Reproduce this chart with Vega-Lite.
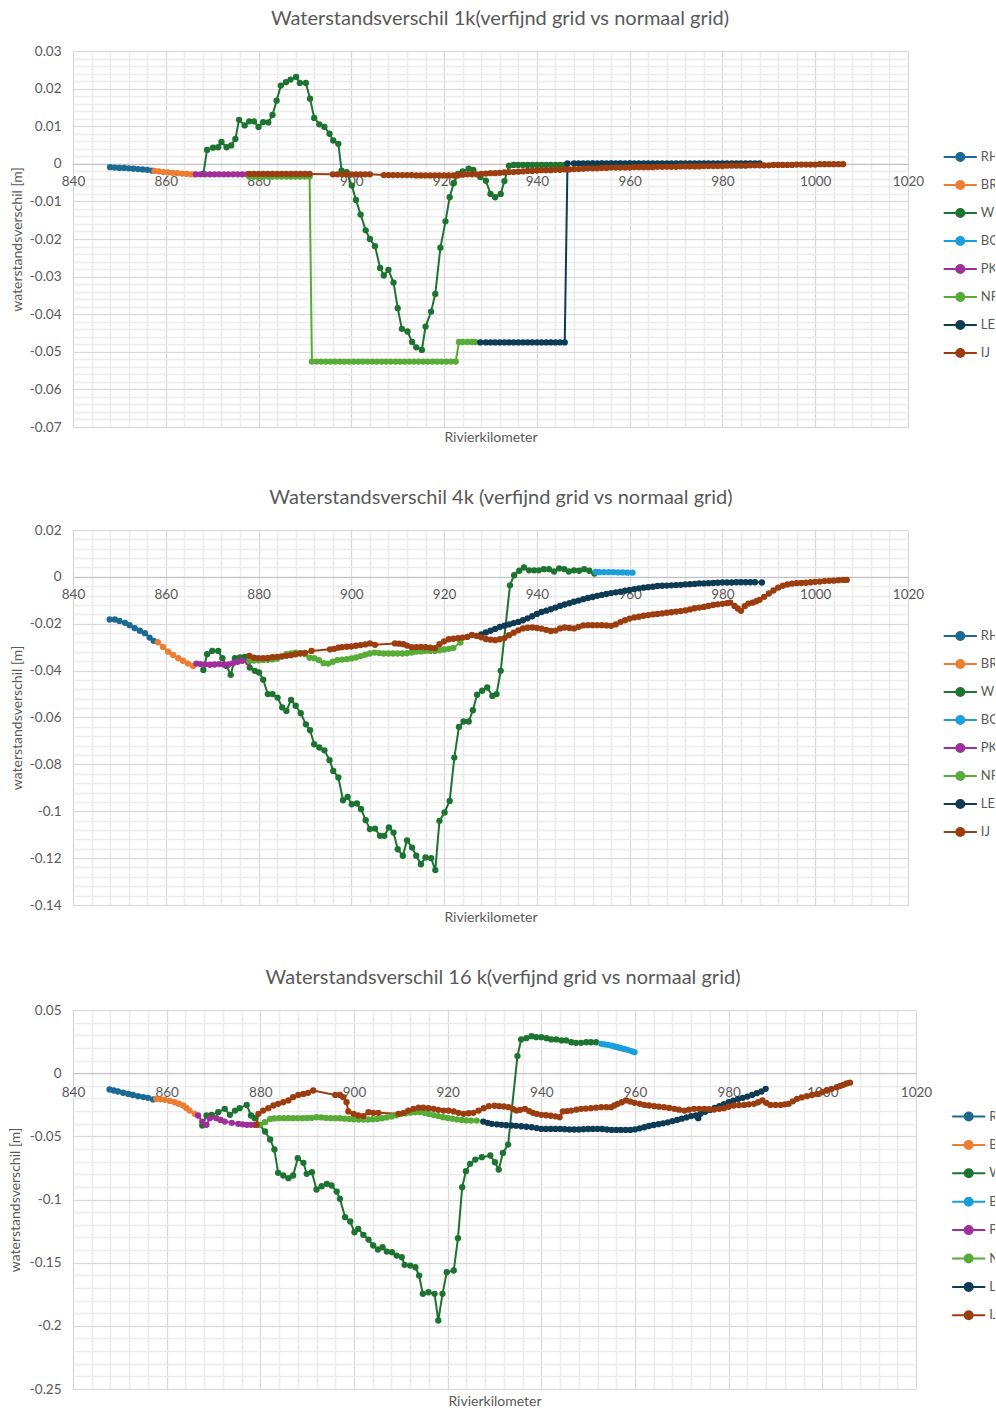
{
"$schema":"https://vega.github.io/schema/vega-lite/v6.json",
"padding":{"left":8,"top":9,"right":-16,"bottom":0},
"background":"white",
"spacing":43,
"config":{"font":"Lato","view":{"stroke":null},
"title":{"fontSize":20,"font":"Lato","color":"#595959","fontWeight":"normal","anchor":"middle","frame":"group","baseline":"alphabetic","offset":15},
"axis":{"labelFont":"Lato","titleFont":"Lato","labelColor":"#595959","titleColor":"#595959","labelFontSize":13.5,"titleFontSize":14,"titleFontWeight":"normal"}},
"datasets":{"d":[
{"p":1,"s":"RH","k":848,"v":-0.0009},{"p":1,"s":"RH","k":849,"v":-0.001},{"p":1,"s":"RH","k":850,"v":-0.0011},{"p":1,"s":"RH","k":851,"v":-0.0011},{"p":1,"s":"RH","k":852,"v":-0.0012},{"p":1,"s":"RH","k":853,"v":-0.0013},{"p":1,"s":"RH","k":854,"v":-0.0014},{"p":1,"s":"RH","k":855,"v":-0.0015},{"p":1,"s":"RH","k":856,"v":-0.0016},{"p":1,"s":"RH","k":857,"v":-0.0018},
{"p":1,"s":"BR","k":857.6,"v":-0.0019},{"p":1,"s":"BR","k":858.5,"v":-0.002},{"p":1,"s":"BR","k":859.5,"v":-0.0022},{"p":1,"s":"BR","k":860.5,"v":-0.0023},{"p":1,"s":"BR","k":861.5,"v":-0.0024},{"p":1,"s":"BR","k":862.5,"v":-0.0025},{"p":1,"s":"BR","k":863.5,"v":-0.0026},{"p":1,"s":"BR","k":864.5,"v":-0.0027},{"p":1,"s":"BR","k":865.5,"v":-0.0028},{"p":1,"s":"BR","k":866.2,"v":-0.0028},
{"p":1,"s":"WL","k":868.1,"v":-0.0027},{"p":1,"s":"WL","k":868.9,"v":0.0037},{"p":1,"s":"WL","k":870.2,"v":0.0043},{"p":1,"s":"WL","k":871.3,"v":0.0044},{"p":1,"s":"WL","k":872,"v":0.0058},{"p":1,"s":"WL","k":873.1,"v":0.0044},{"p":1,"s":"WL","k":874.1,"v":0.0049},{"p":1,"s":"WL","k":875,"v":0.0066},{"p":1,"s":"WL","k":875.8,"v":0.0117},{"p":1,"s":"WL","k":877,"v":0.0102},{"p":1,"s":"WL","k":878,"v":0.0113},{"p":1,"s":"WL","k":879,"v":0.0113},{"p":1,"s":"WL","k":880,"v":0.0098},{"p":1,"s":"WL","k":881,"v":0.0111},{"p":1,"s":"WL","k":882.1,"v":0.011},{"p":1,"s":"WL","k":883,"v":0.013},{"p":1,"s":"WL","k":883.9,"v":0.0168},{"p":1,"s":"WL","k":884.8,"v":0.0208},{"p":1,"s":"WL","k":885.9,"v":0.0217},{"p":1,"s":"WL","k":886.9,"v":0.0224},{"p":1,"s":"WL","k":888.1,"v":0.0231},{"p":1,"s":"WL","k":888.9,"v":0.0215},{"p":1,"s":"WL","k":890.2,"v":0.0215},{"p":1,"s":"WL","k":891.1,"v":0.0173},{"p":1,"s":"WL","k":892,"v":0.0122},{"p":1,"s":"WL","k":893.1,"v":0.0105},{"p":1,"s":"WL","k":894.2,"v":0.0098},{"p":1,"s":"WL","k":895.3,"v":0.008},{"p":1,"s":"WL","k":896.1,"v":0.0062},{"p":1,"s":"WL","k":897.2,"v":0.0053},{"p":1,"s":"WL","k":897.9,"v":-0.0018},{"p":1,"s":"WL","k":899,"v":-0.0022},{"p":1,"s":"WL","k":900.1,"v":-0.0058},{"p":1,"s":"WL","k":901,"v":-0.0096},{"p":1,"s":"WL","k":902,"v":-0.0135},{"p":1,"s":"WL","k":903.1,"v":-0.0177},{"p":1,"s":"WL","k":904,"v":-0.02},{"p":1,"s":"WL","k":905.1,"v":-0.0219},{"p":1,"s":"WL","k":906.2,"v":-0.0277},{"p":1,"s":"WL","k":907,"v":-0.0297},{"p":1,"s":"WL","k":908,"v":-0.0282},{"p":1,"s":"WL","k":909.1,"v":-0.0316},{"p":1,"s":"WL","k":910,"v":-0.0384},{"p":1,"s":"WL","k":910.9,"v":-0.0439},{"p":1,"s":"WL","k":912.1,"v":-0.0446},{"p":1,"s":"WL","k":913.1,"v":-0.0474},{"p":1,"s":"WL","k":914,"v":-0.0488},{"p":1,"s":"WL","k":915.2,"v":-0.0495},{"p":1,"s":"WL","k":916,"v":-0.0433},{"p":1,"s":"WL","k":917.2,"v":-0.0393},{"p":1,"s":"WL","k":918.1,"v":-0.0346},{"p":1,"s":"WL","k":919.2,"v":-0.0223},{"p":1,"s":"WL","k":920.3,"v":-0.0153},{"p":1,"s":"WL","k":921.2,"v":-0.0089},{"p":1,"s":"WL","k":922.1,"v":-0.0051},{"p":1,"s":"WL","k":923,"v":-0.0027},{"p":1,"s":"WL","k":924,"v":-0.002},{"p":1,"s":"WL","k":925.3,"v":-0.0013},{"p":1,"s":"WL","k":926.3,"v":-0.0016},{"p":1,"s":"WL","k":927.8,"v":-0.0035},{"p":1,"s":"WL","k":929,"v":-0.0045},{"p":1,"s":"WL","k":930,"v":-0.008},{"p":1,"s":"WL","k":931,"v":-0.0089},{"p":1,"s":"WL","k":932.2,"v":-0.008},{"p":1,"s":"WL","k":933,"v":-0.0046},{"p":1,"s":"WL","k":934,"v":-0.0005},{"p":1,"s":"WL","k":935,"v":-0.0003},{"p":1,"s":"WL","k":936,"v":-0.0003},{"p":1,"s":"WL","k":937,"v":-0.0003},{"p":1,"s":"WL","k":938,"v":-0.0003},{"p":1,"s":"WL","k":939,"v":-0.0003},{"p":1,"s":"WL","k":940,"v":-0.0003},{"p":1,"s":"WL","k":941,"v":-0.0003},{"p":1,"s":"WL","k":942,"v":-0.0003},{"p":1,"s":"WL","k":943,"v":-0.0003},{"p":1,"s":"WL","k":944,"v":-0.0003},{"p":1,"s":"WL","k":945,"v":-0.0003},{"p":1,"s":"WL","k":946,"v":-0.0003},
{"p":1,"s":"BO","k":952,"v":0.0001},{"p":1,"s":"BO","k":954,"v":0.0001},{"p":1,"s":"BO","k":956,"v":0.0001},{"p":1,"s":"BO","k":958,"v":0.0001},{"p":1,"s":"BO","k":960,"v":0.0001},
{"p":1,"s":"PK","k":866.5,"v":-0.0028},{"p":1,"s":"PK","k":867.5,"v":-0.0028},{"p":1,"s":"PK","k":868.5,"v":-0.0028},{"p":1,"s":"PK","k":869.5,"v":-0.0028},{"p":1,"s":"PK","k":870.5,"v":-0.0028},{"p":1,"s":"PK","k":871.5,"v":-0.0028},{"p":1,"s":"PK","k":872.5,"v":-0.0028},{"p":1,"s":"PK","k":873.5,"v":-0.0028},{"p":1,"s":"PK","k":874.5,"v":-0.0028},{"p":1,"s":"PK","k":875.5,"v":-0.0028},{"p":1,"s":"PK","k":876.5,"v":-0.0028},{"p":1,"s":"PK","k":877.5,"v":-0.0028},
{"p":1,"s":"NR","k":878,"v":-0.0034},{"p":1,"s":"NR","k":879,"v":-0.0034},{"p":1,"s":"NR","k":880,"v":-0.0034},{"p":1,"s":"NR","k":881,"v":-0.0034},{"p":1,"s":"NR","k":882,"v":-0.0034},{"p":1,"s":"NR","k":883,"v":-0.0034},{"p":1,"s":"NR","k":884,"v":-0.0034},{"p":1,"s":"NR","k":885,"v":-0.0034},{"p":1,"s":"NR","k":886,"v":-0.0034},{"p":1,"s":"NR","k":887,"v":-0.0034},{"p":1,"s":"NR","k":888,"v":-0.0034},{"p":1,"s":"NR","k":889,"v":-0.0034},{"p":1,"s":"NR","k":890,"v":-0.0034},{"p":1,"s":"NR","k":891,"v":-0.0034},
{"p":1,"s":"NR","k":891.5,"v":-0.0526},{"p":1,"s":"NR","k":892.5,"v":-0.0526},{"p":1,"s":"NR","k":893.5,"v":-0.0526},{"p":1,"s":"NR","k":894.5,"v":-0.0526},{"p":1,"s":"NR","k":895.5,"v":-0.0526},{"p":1,"s":"NR","k":896.5,"v":-0.0526},{"p":1,"s":"NR","k":897.5,"v":-0.0526},{"p":1,"s":"NR","k":898.5,"v":-0.0526},{"p":1,"s":"NR","k":899.5,"v":-0.0526},{"p":1,"s":"NR","k":900.5,"v":-0.0526},{"p":1,"s":"NR","k":901.5,"v":-0.0526},{"p":1,"s":"NR","k":902.5,"v":-0.0526},{"p":1,"s":"NR","k":903.5,"v":-0.0526},{"p":1,"s":"NR","k":904.5,"v":-0.0526},{"p":1,"s":"NR","k":905.5,"v":-0.0526},{"p":1,"s":"NR","k":906.5,"v":-0.0526},{"p":1,"s":"NR","k":907.5,"v":-0.0526},{"p":1,"s":"NR","k":908.5,"v":-0.0526},{"p":1,"s":"NR","k":909.5,"v":-0.0526},{"p":1,"s":"NR","k":910.5,"v":-0.0526},{"p":1,"s":"NR","k":911.5,"v":-0.0526},{"p":1,"s":"NR","k":912.5,"v":-0.0526},{"p":1,"s":"NR","k":913.5,"v":-0.0526},{"p":1,"s":"NR","k":914.5,"v":-0.0526},{"p":1,"s":"NR","k":915.5,"v":-0.0526},{"p":1,"s":"NR","k":916.5,"v":-0.0526},{"p":1,"s":"NR","k":917.5,"v":-0.0526},{"p":1,"s":"NR","k":918.5,"v":-0.0526},{"p":1,"s":"NR","k":919.5,"v":-0.0526},{"p":1,"s":"NR","k":920.5,"v":-0.0526},{"p":1,"s":"NR","k":921.5,"v":-0.0526},{"p":1,"s":"NR","k":922.5,"v":-0.0526},
{"p":1,"s":"NR","k":923.2,"v":-0.0474},{"p":1,"s":"NR","k":924,"v":-0.0474},{"p":1,"s":"NR","k":925,"v":-0.0474},{"p":1,"s":"NR","k":926,"v":-0.0474},{"p":1,"s":"NR","k":926.7,"v":-0.0474},
{"p":1,"s":"LE","k":927.8,"v":-0.0475},{"p":1,"s":"LE","k":929,"v":-0.0475},{"p":1,"s":"LE","k":930,"v":-0.0475},{"p":1,"s":"LE","k":931,"v":-0.0475},{"p":1,"s":"LE","k":932,"v":-0.0475},{"p":1,"s":"LE","k":933,"v":-0.0475},{"p":1,"s":"LE","k":934,"v":-0.0475},{"p":1,"s":"LE","k":935,"v":-0.0475},{"p":1,"s":"LE","k":936,"v":-0.0475},{"p":1,"s":"LE","k":937,"v":-0.0475},{"p":1,"s":"LE","k":938,"v":-0.0475},{"p":1,"s":"LE","k":939,"v":-0.0475},{"p":1,"s":"LE","k":940,"v":-0.0475},{"p":1,"s":"LE","k":941,"v":-0.0475},{"p":1,"s":"LE","k":942,"v":-0.0475},{"p":1,"s":"LE","k":943,"v":-0.0475},{"p":1,"s":"LE","k":944,"v":-0.0475},{"p":1,"s":"LE","k":945,"v":-0.0475},{"p":1,"s":"LE","k":946,"v":-0.0475},
{"p":1,"s":"LE","k":946.6,"v":0.0001},{"p":1,"s":"LE","k":948,"v":0.0001},{"p":1,"s":"LE","k":949,"v":0.0001},{"p":1,"s":"LE","k":950,"v":0.0001},{"p":1,"s":"LE","k":951,"v":0.0001},{"p":1,"s":"LE","k":952,"v":0.0001},{"p":1,"s":"LE","k":953,"v":0.0001},{"p":1,"s":"LE","k":954,"v":0.0001},{"p":1,"s":"LE","k":955,"v":0.0001},{"p":1,"s":"LE","k":956,"v":0.0001},{"p":1,"s":"LE","k":957,"v":0.0001},{"p":1,"s":"LE","k":958,"v":0.0001},{"p":1,"s":"LE","k":959,"v":0.0001},{"p":1,"s":"LE","k":960,"v":0.0001},{"p":1,"s":"LE","k":961,"v":0.0001},{"p":1,"s":"LE","k":962,"v":0.0001},{"p":1,"s":"LE","k":963,"v":0.0001},{"p":1,"s":"LE","k":964,"v":0.0001},{"p":1,"s":"LE","k":965,"v":0.0001},{"p":1,"s":"LE","k":966,"v":0.0001},{"p":1,"s":"LE","k":967,"v":0.0001},{"p":1,"s":"LE","k":968,"v":0.0001},{"p":1,"s":"LE","k":969,"v":0.0001},{"p":1,"s":"LE","k":970,"v":0.0001},{"p":1,"s":"LE","k":971,"v":0.0001},{"p":1,"s":"LE","k":972,"v":0.0001},{"p":1,"s":"LE","k":973,"v":0.0001},{"p":1,"s":"LE","k":974,"v":0.0001},{"p":1,"s":"LE","k":975,"v":0.0001},{"p":1,"s":"LE","k":976,"v":0.0001},{"p":1,"s":"LE","k":977,"v":0.0001},{"p":1,"s":"LE","k":978,"v":0.0001},{"p":1,"s":"LE","k":979,"v":0.0001},{"p":1,"s":"LE","k":980,"v":0.0001},{"p":1,"s":"LE","k":981,"v":0.0001},{"p":1,"s":"LE","k":982,"v":0.0001},{"p":1,"s":"LE","k":983,"v":0.0001},{"p":1,"s":"LE","k":984,"v":0.0001},{"p":1,"s":"LE","k":985,"v":0.0001},{"p":1,"s":"LE","k":986,"v":0.0001},{"p":1,"s":"LE","k":987,"v":0.0001},{"p":1,"s":"LE","k":988,"v":0.0001},
{"p":1,"s":"IJ","k":878,"v":-0.0027},{"p":1,"s":"IJ","k":879,"v":-0.0027},{"p":1,"s":"IJ","k":880,"v":-0.0027},{"p":1,"s":"IJ","k":881,"v":-0.0027},{"p":1,"s":"IJ","k":882,"v":-0.0027},{"p":1,"s":"IJ","k":883,"v":-0.0027},{"p":1,"s":"IJ","k":884,"v":-0.0027},{"p":1,"s":"IJ","k":885,"v":-0.0027},{"p":1,"s":"IJ","k":886,"v":-0.0027},{"p":1,"s":"IJ","k":887,"v":-0.0027},{"p":1,"s":"IJ","k":888,"v":-0.0027},{"p":1,"s":"IJ","k":889,"v":-0.0027},{"p":1,"s":"IJ","k":890,"v":-0.0027},{"p":1,"s":"IJ","k":891,"v":-0.0027},
{"p":1,"s":"IJ","k":896,"v":-0.0028},{"p":1,"s":"IJ","k":897,"v":-0.0028},{"p":1,"s":"IJ","k":898,"v":-0.0028},{"p":1,"s":"IJ","k":899,"v":-0.0028},{"p":1,"s":"IJ","k":900,"v":-0.0028},{"p":1,"s":"IJ","k":901,"v":-0.0028},{"p":1,"s":"IJ","k":902,"v":-0.0028},{"p":1,"s":"IJ","k":903,"v":-0.0028},{"p":1,"s":"IJ","k":904,"v":-0.0028},
{"p":1,"s":"IJ","k":907,"v":-0.003},{"p":1,"s":"IJ","k":908,"v":-0.003},{"p":1,"s":"IJ","k":909,"v":-0.003},{"p":1,"s":"IJ","k":910,"v":-0.003},{"p":1,"s":"IJ","k":911,"v":-0.003},{"p":1,"s":"IJ","k":912,"v":-0.003},{"p":1,"s":"IJ","k":913,"v":-0.003},{"p":1,"s":"IJ","k":914,"v":-0.0031},{"p":1,"s":"IJ","k":915,"v":-0.0031},{"p":1,"s":"IJ","k":916,"v":-0.0031},{"p":1,"s":"IJ","k":917,"v":-0.0031},{"p":1,"s":"IJ","k":918,"v":-0.0031},{"p":1,"s":"IJ","k":919,"v":-0.0031},{"p":1,"s":"IJ","k":920,"v":-0.0031},{"p":1,"s":"IJ","k":921,"v":-0.0031},{"p":1,"s":"IJ","k":922,"v":-0.0031},{"p":1,"s":"IJ","k":923,"v":-0.0031},{"p":1,"s":"IJ","k":924,"v":-0.0029},{"p":1,"s":"IJ","k":925,"v":-0.0028},{"p":1,"s":"IJ","k":926,"v":-0.0028},{"p":1,"s":"IJ","k":927,"v":-0.0028},{"p":1,"s":"IJ","k":928,"v":-0.0027},{"p":1,"s":"IJ","k":929,"v":-0.0026},{"p":1,"s":"IJ","k":930,"v":-0.0025},{"p":1,"s":"IJ","k":931,"v":-0.0025},{"p":1,"s":"IJ","k":932,"v":-0.0024},{"p":1,"s":"IJ","k":933,"v":-0.0023},{"p":1,"s":"IJ","k":934,"v":-0.0022},{"p":1,"s":"IJ","k":935,"v":-0.0022},{"p":1,"s":"IJ","k":936,"v":-0.0021},{"p":1,"s":"IJ","k":937,"v":-0.002},{"p":1,"s":"IJ","k":938,"v":-0.0019},{"p":1,"s":"IJ","k":939,"v":-0.0019},{"p":1,"s":"IJ","k":940,"v":-0.0018},{"p":1,"s":"IJ","k":941,"v":-0.0017},{"p":1,"s":"IJ","k":942,"v":-0.0017},{"p":1,"s":"IJ","k":943,"v":-0.0017},{"p":1,"s":"IJ","k":944,"v":-0.0016},{"p":1,"s":"IJ","k":945,"v":-0.0016},{"p":1,"s":"IJ","k":946,"v":-0.0015},{"p":1,"s":"IJ","k":947,"v":-0.0015},{"p":1,"s":"IJ","k":948,"v":-0.0014},{"p":1,"s":"IJ","k":949,"v":-0.0014},{"p":1,"s":"IJ","k":950,"v":-0.0013},{"p":1,"s":"IJ","k":951,"v":-0.0012},{"p":1,"s":"IJ","k":952,"v":-0.0012},{"p":1,"s":"IJ","k":953,"v":-0.0012},{"p":1,"s":"IJ","k":954,"v":-0.0011},{"p":1,"s":"IJ","k":955,"v":-0.0011},{"p":1,"s":"IJ","k":956,"v":-0.001},{"p":1,"s":"IJ","k":957,"v":-0.001},{"p":1,"s":"IJ","k":958,"v":-0.001},{"p":1,"s":"IJ","k":959,"v":-0.001},{"p":1,"s":"IJ","k":960,"v":-0.001},{"p":1,"s":"IJ","k":961,"v":-0.0009},{"p":1,"s":"IJ","k":962,"v":-0.0009},{"p":1,"s":"IJ","k":963,"v":-0.0009},{"p":1,"s":"IJ","k":964,"v":-0.0009},{"p":1,"s":"IJ","k":965,"v":-0.0009},{"p":1,"s":"IJ","k":966,"v":-0.0008},{"p":1,"s":"IJ","k":967,"v":-0.0008},{"p":1,"s":"IJ","k":968,"v":-0.0008},{"p":1,"s":"IJ","k":969,"v":-0.0008},{"p":1,"s":"IJ","k":970,"v":-0.0008},{"p":1,"s":"IJ","k":971,"v":-0.0007},{"p":1,"s":"IJ","k":972,"v":-0.0007},{"p":1,"s":"IJ","k":973,"v":-0.0007},{"p":1,"s":"IJ","k":974,"v":-0.0007},{"p":1,"s":"IJ","k":975,"v":-0.0007},{"p":1,"s":"IJ","k":976,"v":-0.0006},{"p":1,"s":"IJ","k":977,"v":-0.0006},{"p":1,"s":"IJ","k":978,"v":-0.0006},{"p":1,"s":"IJ","k":979,"v":-0.0006},{"p":1,"s":"IJ","k":980,"v":-0.0006},{"p":1,"s":"IJ","k":981,"v":-0.0005},{"p":1,"s":"IJ","k":982,"v":-0.0005},{"p":1,"s":"IJ","k":983,"v":-0.0005},{"p":1,"s":"IJ","k":984,"v":-0.0005},{"p":1,"s":"IJ","k":985,"v":-0.0005},{"p":1,"s":"IJ","k":986,"v":-0.0004},{"p":1,"s":"IJ","k":987,"v":-0.0004},{"p":1,"s":"IJ","k":988,"v":-0.0004},{"p":1,"s":"IJ","k":989,"v":-0.0004},{"p":1,"s":"IJ","k":990,"v":-0.0004},{"p":1,"s":"IJ","k":991,"v":-0.0003},{"p":1,"s":"IJ","k":992,"v":-0.0003},{"p":1,"s":"IJ","k":993,"v":-0.0003},{"p":1,"s":"IJ","k":994,"v":-0.0003},{"p":1,"s":"IJ","k":995,"v":-0.0003},{"p":1,"s":"IJ","k":996,"v":-0.0002},{"p":1,"s":"IJ","k":997,"v":-0.0002},{"p":1,"s":"IJ","k":998,"v":-0.0002},{"p":1,"s":"IJ","k":999,"v":-0.0002},{"p":1,"s":"IJ","k":1000,"v":-0.0002},{"p":1,"s":"IJ","k":1001,"v":-0.0001},{"p":1,"s":"IJ","k":1002,"v":-0.0001},{"p":1,"s":"IJ","k":1003,"v":-0.0001},{"p":1,"s":"IJ","k":1004,"v":-0.0001},{"p":1,"s":"IJ","k":1005,"v":-0.0001},{"p":1,"s":"IJ","k":1006,"v":-0.0001},

{"p":2,"s":"RH","k":847.9,"v":-0.0182},{"p":2,"s":"RH","k":849,"v":-0.0182},{"p":2,"s":"RH","k":850,"v":-0.0188},{"p":2,"s":"RH","k":851.2,"v":-0.0196},{"p":2,"s":"RH","k":852.2,"v":-0.0206},{"p":2,"s":"RH","k":853.3,"v":-0.0219},{"p":2,"s":"RH","k":854.4,"v":-0.023},{"p":2,"s":"RH","k":855.5,"v":-0.024},{"p":2,"s":"RH","k":856.5,"v":-0.0259},{"p":2,"s":"RH","k":857.4,"v":-0.0273},
{"p":2,"s":"BR","k":858.3,"v":-0.0279},{"p":2,"s":"BR","k":859.4,"v":-0.0299},{"p":2,"s":"BR","k":860.5,"v":-0.0319},{"p":2,"s":"BR","k":861.6,"v":-0.0333},{"p":2,"s":"BR","k":862.7,"v":-0.0347},{"p":2,"s":"BR","k":863.7,"v":-0.0358},{"p":2,"s":"BR","k":864.8,"v":-0.037},{"p":2,"s":"BR","k":865.9,"v":-0.038},
{"p":2,"s":"WL","k":868.1,"v":-0.0397},{"p":2,"s":"WL","k":868.9,"v":-0.033},{"p":2,"s":"WL","k":870,"v":-0.0316},{"p":2,"s":"WL","k":871.3,"v":-0.0316},{"p":2,"s":"WL","k":872.2,"v":-0.0347},{"p":2,"s":"WL","k":873.1,"v":-0.038},{"p":2,"s":"WL","k":874,"v":-0.0418},{"p":2,"s":"WL","k":874.9,"v":-0.0347},{"p":2,"s":"WL","k":876,"v":-0.0344},{"p":2,"s":"WL","k":877,"v":-0.0341},{"p":2,"s":"WL","k":878.1,"v":-0.0387},{"p":2,"s":"WL","k":879.2,"v":-0.0401},{"p":2,"s":"WL","k":880.1,"v":-0.0408},{"p":2,"s":"WL","k":881,"v":-0.0439},{"p":2,"s":"WL","k":882,"v":-0.05},{"p":2,"s":"WL","k":883,"v":-0.05},{"p":2,"s":"WL","k":884.1,"v":-0.0515},{"p":2,"s":"WL","k":885.1,"v":-0.0557},{"p":2,"s":"WL","k":886,"v":-0.0572},{"p":2,"s":"WL","k":887,"v":-0.0525},{"p":2,"s":"WL","k":888,"v":-0.055},{"p":2,"s":"WL","k":889.1,"v":-0.0582},{"p":2,"s":"WL","k":890.2,"v":-0.0629},{"p":2,"s":"WL","k":891.1,"v":-0.0654},{"p":2,"s":"WL","k":892,"v":-0.0714},{"p":2,"s":"WL","k":893.1,"v":-0.0728},{"p":2,"s":"WL","k":894.2,"v":-0.074},{"p":2,"s":"WL","k":895.3,"v":-0.0782},{"p":2,"s":"WL","k":896.1,"v":-0.0828},{"p":2,"s":"WL","k":897.2,"v":-0.0856},{"p":2,"s":"WL","k":898.2,"v":-0.0953},{"p":2,"s":"WL","k":899.2,"v":-0.0939},{"p":2,"s":"WL","k":900.1,"v":-0.097},{"p":2,"s":"WL","k":901.2,"v":-0.0967},{"p":2,"s":"WL","k":902.1,"v":-0.0991},{"p":2,"s":"WL","k":903.1,"v":-0.1038},{"p":2,"s":"WL","k":904,"v":-0.1076},{"p":2,"s":"WL","k":905.1,"v":-0.1074},{"p":2,"s":"WL","k":906.2,"v":-0.1105},{"p":2,"s":"WL","k":907.1,"v":-0.1105},{"p":2,"s":"WL","k":908.1,"v":-0.1069},{"p":2,"s":"WL","k":909.1,"v":-0.1091},{"p":2,"s":"WL","k":910,"v":-0.1162},{"p":2,"s":"WL","k":911.1,"v":-0.119},{"p":2,"s":"WL","k":912,"v":-0.1124},{"p":2,"s":"WL","k":913.1,"v":-0.1155},{"p":2,"s":"WL","k":914,"v":-0.119},{"p":2,"s":"WL","k":915,"v":-0.1226},{"p":2,"s":"WL","k":916,"v":-0.1197},{"p":2,"s":"WL","k":917.2,"v":-0.12},{"p":2,"s":"WL","k":918.1,"v":-0.1251},{"p":2,"s":"WL","k":919,"v":-0.1041},{"p":2,"s":"WL","k":920.1,"v":-0.1005},{"p":2,"s":"WL","k":921.2,"v":-0.0956},{"p":2,"s":"WL","k":922.2,"v":-0.0771},{"p":2,"s":"WL","k":923.2,"v":-0.064},{"p":2,"s":"WL","k":924.2,"v":-0.0617},{"p":2,"s":"WL","k":925.3,"v":-0.0617},{"p":2,"s":"WL","k":926.2,"v":-0.0569},{"p":2,"s":"WL","k":927.1,"v":-0.0503},{"p":2,"s":"WL","k":928.2,"v":-0.0486},{"p":2,"s":"WL","k":929.3,"v":-0.0472},{"p":2,"s":"WL","k":930.4,"v":-0.0508},{"p":2,"s":"WL","k":931.3,"v":-0.05},{"p":2,"s":"WL","k":932.2,"v":-0.0401},{"p":2,"s":"WL","k":934.2,"v":-0.0036},{"p":2,"s":"WL","k":935.1,"v":0.0007},{"p":2,"s":"WL","k":936.2,"v":0.0026},{"p":2,"s":"WL","k":937.2,"v":0.004},{"p":2,"s":"WL","k":938.3,"v":0.0028},{"p":2,"s":"WL","k":939.4,"v":0.0028},{"p":2,"s":"WL","k":940.4,"v":0.0028},{"p":2,"s":"WL","k":941.5,"v":0.0033},{"p":2,"s":"WL","k":942.6,"v":0.0033},{"p":2,"s":"WL","k":943.7,"v":0.0023},{"p":2,"s":"WL","k":944.8,"v":0.0036},{"p":2,"s":"WL","k":945.9,"v":0.0033},{"p":2,"s":"WL","k":946.9,"v":0.0023},{"p":2,"s":"WL","k":948,"v":0.0028},{"p":2,"s":"WL","k":949.1,"v":0.0026},{"p":2,"s":"WL","k":950.2,"v":0.0033},{"p":2,"s":"WL","k":951.3,"v":0.0026},{"p":2,"s":"WL","k":952.4,"v":0.0014},
{"p":2,"s":"BO","k":952.7,"v":0.0021},{"p":2,"s":"BO","k":953.5,"v":0.002},{"p":2,"s":"BO","k":954.5,"v":0.002},{"p":2,"s":"BO","k":955.5,"v":0.002},{"p":2,"s":"BO","k":956.5,"v":0.002},{"p":2,"s":"BO","k":957.5,"v":0.0019},{"p":2,"s":"BO","k":958.5,"v":0.0019},{"p":2,"s":"BO","k":959.5,"v":0.0018},{"p":2,"s":"BO","k":960.6,"v":0.0018},
{"p":2,"s":"PK","k":866.6,"v":-0.037},{"p":2,"s":"PK","k":867.5,"v":-0.0372},{"p":2,"s":"PK","k":868.5,"v":-0.0373},{"p":2,"s":"PK","k":869.5,"v":-0.0375},{"p":2,"s":"PK","k":870.5,"v":-0.0374},{"p":2,"s":"PK","k":871.5,"v":-0.0372},{"p":2,"s":"PK","k":872.5,"v":-0.0374},{"p":2,"s":"PK","k":873.5,"v":-0.0374},{"p":2,"s":"PK","k":874.5,"v":-0.0368},{"p":2,"s":"PK","k":875.5,"v":-0.0362},{"p":2,"s":"PK","k":876.5,"v":-0.0358},{"p":2,"s":"PK","k":877.8,"v":-0.0365},
{"p":2,"s":"NR","k":878,"v":-0.0358},{"p":2,"s":"NR","k":879,"v":-0.0357},{"p":2,"s":"NR","k":880,"v":-0.0356},{"p":2,"s":"NR","k":881,"v":-0.0355},{"p":2,"s":"NR","k":882,"v":-0.0354},{"p":2,"s":"NR","k":883,"v":-0.0352},{"p":2,"s":"NR","k":884,"v":-0.0349},{"p":2,"s":"NR","k":885,"v":-0.034},{"p":2,"s":"NR","k":886,"v":-0.033},{"p":2,"s":"NR","k":887,"v":-0.0327},{"p":2,"s":"NR","k":888,"v":-0.0323},{"p":2,"s":"NR","k":889,"v":-0.0325},{"p":2,"s":"NR","k":890,"v":-0.033},{"p":2,"s":"NR","k":891,"v":-0.0345},{"p":2,"s":"NR","k":892,"v":-0.0347},{"p":2,"s":"NR","k":893,"v":-0.0355},{"p":2,"s":"NR","k":894,"v":-0.0368},{"p":2,"s":"NR","k":895,"v":-0.037},{"p":2,"s":"NR","k":896,"v":-0.0362},{"p":2,"s":"NR","k":897,"v":-0.0355},{"p":2,"s":"NR","k":898,"v":-0.0353},{"p":2,"s":"NR","k":899,"v":-0.0351},{"p":2,"s":"NR","k":900,"v":-0.0348},{"p":2,"s":"NR","k":901,"v":-0.0344},{"p":2,"s":"NR","k":902,"v":-0.0338},{"p":2,"s":"NR","k":903,"v":-0.0332},{"p":2,"s":"NR","k":904,"v":-0.0327},{"p":2,"s":"NR","k":905,"v":-0.0323},{"p":2,"s":"NR","k":906,"v":-0.0325},{"p":2,"s":"NR","k":907,"v":-0.0327},{"p":2,"s":"NR","k":908,"v":-0.0327},{"p":2,"s":"NR","k":909,"v":-0.0327},{"p":2,"s":"NR","k":910,"v":-0.0327},{"p":2,"s":"NR","k":911,"v":-0.0327},{"p":2,"s":"NR","k":912,"v":-0.0326},{"p":2,"s":"NR","k":913,"v":-0.0323},{"p":2,"s":"NR","k":914,"v":-0.0319},{"p":2,"s":"NR","k":915,"v":-0.0318},{"p":2,"s":"NR","k":916,"v":-0.0316},{"p":2,"s":"NR","k":917,"v":-0.0316},{"p":2,"s":"NR","k":918,"v":-0.0316},{"p":2,"s":"NR","k":919,"v":-0.0313},{"p":2,"s":"NR","k":920,"v":-0.031},{"p":2,"s":"NR","k":921,"v":-0.0307},{"p":2,"s":"NR","k":922,"v":-0.0303},{"p":2,"s":"NR","k":923.5,"v":-0.028},
{"p":2,"s":"LE","k":928,"v":-0.0245},{"p":2,"s":"LE","k":929,"v":-0.0237},{"p":2,"s":"LE","k":930,"v":-0.023},{"p":2,"s":"LE","k":931,"v":-0.0222},{"p":2,"s":"LE","k":932,"v":-0.0214},{"p":2,"s":"LE","k":933,"v":-0.0208},{"p":2,"s":"LE","k":934,"v":-0.0203},{"p":2,"s":"LE","k":935,"v":-0.0197},{"p":2,"s":"LE","k":936,"v":-0.0192},{"p":2,"s":"LE","k":937,"v":-0.0185},{"p":2,"s":"LE","k":938,"v":-0.0177},{"p":2,"s":"LE","k":939,"v":-0.0168},{"p":2,"s":"LE","k":940,"v":-0.0158},{"p":2,"s":"LE","k":941,"v":-0.015},{"p":2,"s":"LE","k":942,"v":-0.0144},{"p":2,"s":"LE","k":943,"v":-0.0138},{"p":2,"s":"LE","k":944,"v":-0.0131},{"p":2,"s":"LE","k":945,"v":-0.0124},{"p":2,"s":"LE","k":946,"v":-0.0118},{"p":2,"s":"LE","k":947,"v":-0.0112},{"p":2,"s":"LE","k":948,"v":-0.0106},{"p":2,"s":"LE","k":949,"v":-0.0101},{"p":2,"s":"LE","k":950,"v":-0.0095},{"p":2,"s":"LE","k":951,"v":-0.009},{"p":2,"s":"LE","k":952,"v":-0.0086},{"p":2,"s":"LE","k":953,"v":-0.0081},{"p":2,"s":"LE","k":954,"v":-0.0077},{"p":2,"s":"LE","k":955,"v":-0.0073},{"p":2,"s":"LE","k":956,"v":-0.0069},{"p":2,"s":"LE","k":957,"v":-0.0066},{"p":2,"s":"LE","k":958,"v":-0.0063},{"p":2,"s":"LE","k":959,"v":-0.0059},{"p":2,"s":"LE","k":960,"v":-0.0056},{"p":2,"s":"LE","k":961,"v":-0.0052},{"p":2,"s":"LE","k":962,"v":-0.0049},{"p":2,"s":"LE","k":963,"v":-0.0046},{"p":2,"s":"LE","k":964,"v":-0.0044},{"p":2,"s":"LE","k":965,"v":-0.0042},{"p":2,"s":"LE","k":966,"v":-0.0039},{"p":2,"s":"LE","k":967,"v":-0.0038},{"p":2,"s":"LE","k":968,"v":-0.0037},{"p":2,"s":"LE","k":969,"v":-0.0036},{"p":2,"s":"LE","k":970,"v":-0.0035},{"p":2,"s":"LE","k":971,"v":-0.0034},{"p":2,"s":"LE","k":972,"v":-0.0032},{"p":2,"s":"LE","k":973,"v":-0.0031},{"p":2,"s":"LE","k":974,"v":-0.003},{"p":2,"s":"LE","k":975,"v":-0.0028},{"p":2,"s":"LE","k":976,"v":-0.0028},{"p":2,"s":"LE","k":977,"v":-0.0027},{"p":2,"s":"LE","k":978,"v":-0.0026},{"p":2,"s":"LE","k":979,"v":-0.0025},{"p":2,"s":"LE","k":980,"v":-0.0024},{"p":2,"s":"LE","k":981,"v":-0.0024},{"p":2,"s":"LE","k":982,"v":-0.0024},{"p":2,"s":"LE","k":983,"v":-0.0023},{"p":2,"s":"LE","k":984,"v":-0.0023},{"p":2,"s":"LE","k":985,"v":-0.0023},{"p":2,"s":"LE","k":986,"v":-0.0023},{"p":2,"s":"LE","k":987,"v":-0.0023},{"p":2,"s":"LE","k":988.5,"v":-0.0024},
{"p":2,"s":"IJ","k":878,"v":-0.0337},{"p":2,"s":"IJ","k":879,"v":-0.0345},{"p":2,"s":"IJ","k":880,"v":-0.0347},{"p":2,"s":"IJ","k":881,"v":-0.0347},{"p":2,"s":"IJ","k":882,"v":-0.0346},{"p":2,"s":"IJ","k":883,"v":-0.0343},{"p":2,"s":"IJ","k":884,"v":-0.0341},{"p":2,"s":"IJ","k":885,"v":-0.0339},{"p":2,"s":"IJ","k":886,"v":-0.0337},{"p":2,"s":"IJ","k":887,"v":-0.0334},{"p":2,"s":"IJ","k":888,"v":-0.033},{"p":2,"s":"IJ","k":889,"v":-0.0327},{"p":2,"s":"IJ","k":890,"v":-0.0324},{"p":2,"s":"IJ","k":891.4,"v":-0.0316},{"p":2,"s":"IJ","k":895.4,"v":-0.0309},{"p":2,"s":"IJ","k":896.3,"v":-0.0307},{"p":2,"s":"IJ","k":897.2,"v":-0.0302},{"p":2,"s":"IJ","k":898,"v":-0.03},{"p":2,"s":"IJ","k":899,"v":-0.0298},{"p":2,"s":"IJ","k":900,"v":-0.0297},{"p":2,"s":"IJ","k":901,"v":-0.0294},{"p":2,"s":"IJ","k":902,"v":-0.0291},{"p":2,"s":"IJ","k":903,"v":-0.0288},{"p":2,"s":"IJ","k":904,"v":-0.0284},{"p":2,"s":"IJ","k":905.1,"v":-0.029},{"p":2,"s":"IJ","k":909.4,"v":-0.0284},{"p":2,"s":"IJ","k":910.3,"v":-0.0285},{"p":2,"s":"IJ","k":911.2,"v":-0.0287},{"p":2,"s":"IJ","k":912,"v":-0.0293},{"p":2,"s":"IJ","k":913,"v":-0.03},{"p":2,"s":"IJ","k":914,"v":-0.03},{"p":2,"s":"IJ","k":915,"v":-0.0299},{"p":2,"s":"IJ","k":916,"v":-0.03},{"p":2,"s":"IJ","k":917,"v":-0.0302},{"p":2,"s":"IJ","k":918,"v":-0.0304},{"p":2,"s":"IJ","k":919,"v":-0.0287},{"p":2,"s":"IJ","k":920,"v":-0.0275},{"p":2,"s":"IJ","k":921,"v":-0.0266},{"p":2,"s":"IJ","k":922,"v":-0.0264},{"p":2,"s":"IJ","k":923,"v":-0.0262},{"p":2,"s":"IJ","k":924,"v":-0.0259},{"p":2,"s":"IJ","k":925,"v":-0.0256},{"p":2,"s":"IJ","k":926,"v":-0.0248},{"p":2,"s":"IJ","k":927,"v":-0.0252},{"p":2,"s":"IJ","k":928,"v":-0.0258},{"p":2,"s":"IJ","k":929,"v":-0.0265},{"p":2,"s":"IJ","k":930,"v":-0.0268},{"p":2,"s":"IJ","k":931,"v":-0.027},{"p":2,"s":"IJ","k":932,"v":-0.0266},{"p":2,"s":"IJ","k":933,"v":-0.0261},{"p":2,"s":"IJ","k":934,"v":-0.0249},{"p":2,"s":"IJ","k":935,"v":-0.0238},{"p":2,"s":"IJ","k":936,"v":-0.0228},{"p":2,"s":"IJ","k":937,"v":-0.022},{"p":2,"s":"IJ","k":938,"v":-0.0217},{"p":2,"s":"IJ","k":939,"v":-0.0216},{"p":2,"s":"IJ","k":940,"v":-0.0218},{"p":2,"s":"IJ","k":941,"v":-0.0221},{"p":2,"s":"IJ","k":942,"v":-0.0226},{"p":2,"s":"IJ","k":943,"v":-0.0231},{"p":2,"s":"IJ","k":944,"v":-0.0229},{"p":2,"s":"IJ","k":945,"v":-0.022},{"p":2,"s":"IJ","k":946,"v":-0.0216},{"p":2,"s":"IJ","k":947,"v":-0.0218},{"p":2,"s":"IJ","k":948,"v":-0.022},{"p":2,"s":"IJ","k":949,"v":-0.0213},{"p":2,"s":"IJ","k":950,"v":-0.0207},{"p":2,"s":"IJ","k":951,"v":-0.0206},{"p":2,"s":"IJ","k":952,"v":-0.0206},{"p":2,"s":"IJ","k":953,"v":-0.0206},{"p":2,"s":"IJ","k":954,"v":-0.0206},{"p":2,"s":"IJ","k":955,"v":-0.0207},{"p":2,"s":"IJ","k":956,"v":-0.0209},{"p":2,"s":"IJ","k":957,"v":-0.0203},{"p":2,"s":"IJ","k":958,"v":-0.0193},{"p":2,"s":"IJ","k":959,"v":-0.0185},{"p":2,"s":"IJ","k":960,"v":-0.0178},{"p":2,"s":"IJ","k":961,"v":-0.0173},{"p":2,"s":"IJ","k":962,"v":-0.017},{"p":2,"s":"IJ","k":963,"v":-0.0166},{"p":2,"s":"IJ","k":964,"v":-0.0163},{"p":2,"s":"IJ","k":965,"v":-0.016},{"p":2,"s":"IJ","k":966,"v":-0.0158},{"p":2,"s":"IJ","k":967,"v":-0.0156},{"p":2,"s":"IJ","k":968,"v":-0.0153},{"p":2,"s":"IJ","k":969,"v":-0.0151},{"p":2,"s":"IJ","k":970,"v":-0.0148},{"p":2,"s":"IJ","k":971,"v":-0.0146},{"p":2,"s":"IJ","k":972,"v":-0.0143},{"p":2,"s":"IJ","k":973,"v":-0.0139},{"p":2,"s":"IJ","k":974,"v":-0.0134},{"p":2,"s":"IJ","k":975,"v":-0.0131},{"p":2,"s":"IJ","k":976,"v":-0.0128},{"p":2,"s":"IJ","k":977,"v":-0.0124},{"p":2,"s":"IJ","k":978,"v":-0.012},{"p":2,"s":"IJ","k":979,"v":-0.0117},{"p":2,"s":"IJ","k":980,"v":-0.0115},{"p":2,"s":"IJ","k":981,"v":-0.0112},{"p":2,"s":"IJ","k":981.7,"v":-0.011},{"p":2,"s":"IJ","k":982.6,"v":-0.0124},{"p":2,"s":"IJ","k":983.3,"v":-0.0135},{"p":2,"s":"IJ","k":984,"v":-0.0145},{"p":2,"s":"IJ","k":984.8,"v":-0.0125},{"p":2,"s":"IJ","k":985.6,"v":-0.0114},{"p":2,"s":"IJ","k":986.5,"v":-0.011},{"p":2,"s":"IJ","k":987.3,"v":-0.0104},{"p":2,"s":"IJ","k":988,"v":-0.0098},{"p":2,"s":"IJ","k":989,"v":-0.0085},{"p":2,"s":"IJ","k":990,"v":-0.0071},{"p":2,"s":"IJ","k":991,"v":-0.0058},{"p":2,"s":"IJ","k":992,"v":-0.0046},{"p":2,"s":"IJ","k":993,"v":-0.0038},{"p":2,"s":"IJ","k":994,"v":-0.0032},{"p":2,"s":"IJ","k":995,"v":-0.0029},{"p":2,"s":"IJ","k":996,"v":-0.0027},{"p":2,"s":"IJ","k":997,"v":-0.0026},{"p":2,"s":"IJ","k":998,"v":-0.0025},{"p":2,"s":"IJ","k":999,"v":-0.0023},{"p":2,"s":"IJ","k":1000,"v":-0.0021},{"p":2,"s":"IJ","k":1001,"v":-0.002},{"p":2,"s":"IJ","k":1002,"v":-0.0018},{"p":2,"s":"IJ","k":1003,"v":-0.0017},{"p":2,"s":"IJ","k":1004,"v":-0.0016},{"p":2,"s":"IJ","k":1005,"v":-0.0014},{"p":2,"s":"IJ","k":1006,"v":-0.0013},{"p":2,"s":"IJ","k":1006.8,"v":-0.0013},

{"p":3,"s":"RH","k":847.8,"v":-0.0129},{"p":3,"s":"RH","k":848.7,"v":-0.0137},{"p":3,"s":"RH","k":849.6,"v":-0.0145},{"p":3,"s":"RH","k":850.7,"v":-0.0155},{"p":3,"s":"RH","k":851.8,"v":-0.0164},{"p":3,"s":"RH","k":852.8,"v":-0.0173},{"p":3,"s":"RH","k":853.9,"v":-0.0182},{"p":3,"s":"RH","k":855,"v":-0.0189},{"p":3,"s":"RH","k":856,"v":-0.0195},{"p":3,"s":"RH","k":857.1,"v":-0.0208},
{"p":3,"s":"BR","k":857.8,"v":-0.0203},{"p":3,"s":"BR","k":858.7,"v":-0.0207},{"p":3,"s":"BR","k":859.6,"v":-0.0211},{"p":3,"s":"BR","k":860.7,"v":-0.022},{"p":3,"s":"BR","k":861.7,"v":-0.023},{"p":3,"s":"BR","k":862.6,"v":-0.0242},{"p":3,"s":"BR","k":863.5,"v":-0.0256},{"p":3,"s":"BR","k":864.2,"v":-0.0275},{"p":3,"s":"BR","k":864.9,"v":-0.0296},{"p":3,"s":"BR","k":866,"v":-0.0322},
{"p":3,"s":"WL","k":867.6,"v":-0.0414},{"p":3,"s":"WL","k":868.5,"v":-0.0335},{"p":3,"s":"WL","k":869.6,"v":-0.033},{"p":3,"s":"WL","k":871,"v":-0.0309},{"p":3,"s":"WL","k":872.4,"v":-0.0282},{"p":3,"s":"WL","k":873.5,"v":-0.033},{"p":3,"s":"WL","k":874.6,"v":-0.0296},{"p":3,"s":"WL","k":875.6,"v":-0.0277},{"p":3,"s":"WL","k":877.1,"v":-0.0251},{"p":3,"s":"WL","k":878,"v":-0.0335},{"p":3,"s":"WL","k":878.8,"v":-0.0356},{"p":3,"s":"WL","k":879.9,"v":-0.0409},{"p":3,"s":"WL","k":881,"v":-0.0462},{"p":3,"s":"WL","k":882.1,"v":-0.0525},{"p":3,"s":"WL","k":883,"v":-0.0604},{"p":3,"s":"WL","k":883.8,"v":-0.0789},{"p":3,"s":"WL","k":884.9,"v":-0.081},{"p":3,"s":"WL","k":886,"v":-0.0831},{"p":3,"s":"WL","k":887,"v":-0.081},{"p":3,"s":"WL","k":888,"v":-0.0673},{"p":3,"s":"WL","k":889.2,"v":-0.071},{"p":3,"s":"WL","k":889.9,"v":-0.0797},{"p":3,"s":"WL","k":891,"v":-0.0784},{"p":3,"s":"WL","k":892,"v":-0.0921},{"p":3,"s":"WL","k":893.1,"v":-0.0895},{"p":3,"s":"WL","k":894.2,"v":-0.0876},{"p":3,"s":"WL","k":895.2,"v":-0.0889},{"p":3,"s":"WL","k":896.3,"v":-0.0937},{"p":3,"s":"WL","k":897,"v":-0.0995},{"p":3,"s":"WL","k":898.1,"v":-0.114},{"p":3,"s":"WL","k":899.2,"v":-0.1174},{"p":3,"s":"WL","k":900.1,"v":-0.1259},{"p":3,"s":"WL","k":900.9,"v":-0.1232},{"p":3,"s":"WL","k":902,"v":-0.128},{"p":3,"s":"WL","k":903.1,"v":-0.1317},{"p":3,"s":"WL","k":904.1,"v":-0.1364},{"p":3,"s":"WL","k":905.1,"v":-0.1396},{"p":3,"s":"WL","k":906.1,"v":-0.1378},{"p":3,"s":"WL","k":907,"v":-0.1412},{"p":3,"s":"WL","k":908.1,"v":-0.1417},{"p":3,"s":"WL","k":909.1,"v":-0.1444},{"p":3,"s":"WL","k":910.2,"v":-0.1457},{"p":3,"s":"WL","k":910.8,"v":-0.1517},{"p":3,"s":"WL","k":912,"v":-0.1523},{"p":3,"s":"WL","k":913.1,"v":-0.1536},{"p":3,"s":"WL","k":913.9,"v":-0.1602},{"p":3,"s":"WL","k":914.7,"v":-0.1747},{"p":3,"s":"WL","k":915.9,"v":-0.1734},{"p":3,"s":"WL","k":917.2,"v":-0.1747},{"p":3,"s":"WL","k":918,"v":-0.1958},{"p":3,"s":"WL","k":918.9,"v":-0.1747},{"p":3,"s":"WL","k":919.8,"v":-0.1576},{"p":3,"s":"WL","k":921.3,"v":-0.1562},{"p":3,"s":"WL","k":922.2,"v":-0.1306},{"p":3,"s":"WL","k":923.1,"v":-0.0903},{"p":3,"s":"WL","k":923.9,"v":-0.0776},{"p":3,"s":"WL","k":924.8,"v":-0.0718},{"p":3,"s":"WL","k":925.9,"v":-0.0684},{"p":3,"s":"WL","k":927.3,"v":-0.0665},{"p":3,"s":"WL","k":929.1,"v":-0.0652},{"p":3,"s":"WL","k":930.1,"v":-0.0705},{"p":3,"s":"WL","k":930.9,"v":-0.0763},{"p":3,"s":"WL","k":931.8,"v":-0.0631},{"p":3,"s":"WL","k":932.9,"v":-0.0565},{"p":3,"s":"WL","k":934.9,"v":0.0135},{"p":3,"s":"WL","k":935.7,"v":0.0267},{"p":3,"s":"WL","k":936.8,"v":0.0277},{"p":3,"s":"WL","k":937.9,"v":0.0293},{"p":3,"s":"WL","k":938.9,"v":0.0285},{"p":3,"s":"WL","k":940,"v":0.0285},{"p":3,"s":"WL","k":941.1,"v":0.0277},{"p":3,"s":"WL","k":942.1,"v":0.0267},{"p":3,"s":"WL","k":943.2,"v":0.0267},{"p":3,"s":"WL","k":944.3,"v":0.0259},{"p":3,"s":"WL","k":945.3,"v":0.0259},{"p":3,"s":"WL","k":946.4,"v":0.0245},{"p":3,"s":"WL","k":947.4,"v":0.024},{"p":3,"s":"WL","k":948.5,"v":0.024},{"p":3,"s":"WL","k":949.6,"v":0.0245},{"p":3,"s":"WL","k":950.6,"v":0.0245},{"p":3,"s":"WL","k":951.7,"v":0.0245},
{"p":3,"s":"BO","k":952.8,"v":0.0232},{"p":3,"s":"BO","k":953.5,"v":0.0228},{"p":3,"s":"BO","k":954.2,"v":0.0224},{"p":3,"s":"BO","k":955,"v":0.0218},{"p":3,"s":"BO","k":955.6,"v":0.0211},{"p":3,"s":"BO","k":956.3,"v":0.0205},{"p":3,"s":"BO","k":957,"v":0.0198},{"p":3,"s":"BO","k":957.7,"v":0.0192},{"p":3,"s":"BO","k":958.4,"v":0.0185},{"p":3,"s":"BO","k":959.2,"v":0.0175},{"p":3,"s":"BO","k":959.9,"v":0.0166},
{"p":3,"s":"PK","k":866.7,"v":-0.0335},{"p":3,"s":"PK","k":867.6,"v":-0.0383},{"p":3,"s":"PK","k":868.5,"v":-0.0409},{"p":3,"s":"PK","k":869.2,"v":-0.0356},{"p":3,"s":"PK","k":870.6,"v":-0.0356},{"p":3,"s":"PK","k":871.5,"v":-0.037},{"p":3,"s":"PK","k":872.4,"v":-0.0383},{"p":3,"s":"PK","k":873.9,"v":-0.0393},{"p":3,"s":"PK","k":875.3,"v":-0.0401},{"p":3,"s":"PK","k":876.2,"v":-0.0405},{"p":3,"s":"PK","k":877.1,"v":-0.0409},{"p":3,"s":"PK","k":878,"v":-0.0409},{"p":3,"s":"PK","k":878.8,"v":-0.0409},
{"p":3,"s":"NR","k":879.9,"v":-0.0409},{"p":3,"s":"NR","k":881,"v":-0.0388},{"p":3,"s":"NR","k":882.1,"v":-0.0362},{"p":3,"s":"NR","k":883,"v":-0.0358},{"p":3,"s":"NR","k":884,"v":-0.0356},{"p":3,"s":"NR","k":885,"v":-0.0356},{"p":3,"s":"NR","k":886,"v":-0.0356},{"p":3,"s":"NR","k":887,"v":-0.0356},{"p":3,"s":"NR","k":888,"v":-0.0356},{"p":3,"s":"NR","k":889,"v":-0.0356},{"p":3,"s":"NR","k":890,"v":-0.0355},{"p":3,"s":"NR","k":891,"v":-0.0354},{"p":3,"s":"NR","k":892,"v":-0.0349},{"p":3,"s":"NR","k":893,"v":-0.035},{"p":3,"s":"NR","k":894,"v":-0.0354},{"p":3,"s":"NR","k":895,"v":-0.0356},{"p":3,"s":"NR","k":896,"v":-0.0356},{"p":3,"s":"NR","k":897,"v":-0.0357},{"p":3,"s":"NR","k":898,"v":-0.036},{"p":3,"s":"NR","k":899,"v":-0.0363},{"p":3,"s":"NR","k":900,"v":-0.0365},{"p":3,"s":"NR","k":901,"v":-0.0367},{"p":3,"s":"NR","k":902,"v":-0.0367},{"p":3,"s":"NR","k":903,"v":-0.0367},{"p":3,"s":"NR","k":904,"v":-0.0365},{"p":3,"s":"NR","k":905,"v":-0.0362},{"p":3,"s":"NR","k":906,"v":-0.0357},{"p":3,"s":"NR","k":907,"v":-0.035},{"p":3,"s":"NR","k":908,"v":-0.0343},{"p":3,"s":"NR","k":909,"v":-0.0334},{"p":3,"s":"NR","k":910,"v":-0.0324},{"p":3,"s":"NR","k":911,"v":-0.0317},{"p":3,"s":"NR","k":912,"v":-0.0313},{"p":3,"s":"NR","k":913,"v":-0.031},{"p":3,"s":"NR","k":914,"v":-0.0309},{"p":3,"s":"NR","k":915,"v":-0.0314},{"p":3,"s":"NR","k":916,"v":-0.0323},{"p":3,"s":"NR","k":917,"v":-0.0332},{"p":3,"s":"NR","k":918,"v":-0.034},{"p":3,"s":"NR","k":919,"v":-0.0348},{"p":3,"s":"NR","k":920,"v":-0.0355},{"p":3,"s":"NR","k":921,"v":-0.036},{"p":3,"s":"NR","k":922,"v":-0.0366},{"p":3,"s":"NR","k":923,"v":-0.037},{"p":3,"s":"NR","k":924,"v":-0.0374},{"p":3,"s":"NR","k":925,"v":-0.0375},{"p":3,"s":"NR","k":926.2,"v":-0.0375},
{"p":3,"s":"LE","k":927.6,"v":-0.0383},{"p":3,"s":"LE","k":928.5,"v":-0.0393},{"p":3,"s":"LE","k":929.4,"v":-0.0401},{"p":3,"s":"LE","k":930.5,"v":-0.0405},{"p":3,"s":"LE","k":931.5,"v":-0.0409},{"p":3,"s":"LE","k":932.5,"v":-0.0412},{"p":3,"s":"LE","k":933.6,"v":-0.0414},{"p":3,"s":"LE","k":934.6,"v":-0.0417},{"p":3,"s":"LE","k":935.7,"v":-0.042},{"p":3,"s":"LE","k":936.8,"v":-0.0424},{"p":3,"s":"LE","k":937.9,"v":-0.0428},{"p":3,"s":"LE","k":939,"v":-0.0435},{"p":3,"s":"LE","k":940,"v":-0.0441},{"p":3,"s":"LE","k":941,"v":-0.0441},{"p":3,"s":"LE","k":942,"v":-0.0441},{"p":3,"s":"LE","k":943,"v":-0.0441},{"p":3,"s":"LE","k":944,"v":-0.0441},{"p":3,"s":"LE","k":945,"v":-0.0443},{"p":3,"s":"LE","k":946,"v":-0.0446},{"p":3,"s":"LE","k":947,"v":-0.0446},{"p":3,"s":"LE","k":948,"v":-0.0446},{"p":3,"s":"LE","k":949,"v":-0.0444},{"p":3,"s":"LE","k":950,"v":-0.0442},{"p":3,"s":"LE","k":951,"v":-0.0441},{"p":3,"s":"LE","k":952,"v":-0.0441},{"p":3,"s":"LE","k":953,"v":-0.0442},{"p":3,"s":"LE","k":954,"v":-0.0446},{"p":3,"s":"LE","k":955,"v":-0.0449},{"p":3,"s":"LE","k":956,"v":-0.0449},{"p":3,"s":"LE","k":957,"v":-0.0449},{"p":3,"s":"LE","k":958,"v":-0.0449},{"p":3,"s":"LE","k":959,"v":-0.0449},{"p":3,"s":"LE","k":960,"v":-0.0445},{"p":3,"s":"LE","k":961,"v":-0.0437},{"p":3,"s":"LE","k":962,"v":-0.0428},{"p":3,"s":"LE","k":963,"v":-0.0418},{"p":3,"s":"LE","k":964,"v":-0.041},{"p":3,"s":"LE","k":965,"v":-0.0404},{"p":3,"s":"LE","k":966,"v":-0.0397},{"p":3,"s":"LE","k":967,"v":-0.0389},{"p":3,"s":"LE","k":968,"v":-0.0379},{"p":3,"s":"LE","k":969,"v":-0.037},{"p":3,"s":"LE","k":970,"v":-0.036},{"p":3,"s":"LE","k":971,"v":-0.035},{"p":3,"s":"LE","k":972,"v":-0.034},{"p":3,"s":"LE","k":973,"v":-0.0335},{"p":3,"s":"LE","k":973.5,"v":-0.0356},{"p":3,"s":"LE","k":974,"v":-0.0322},{"p":3,"s":"LE","k":975,"v":-0.0306},{"p":3,"s":"LE","k":976,"v":-0.0291},{"p":3,"s":"LE","k":977,"v":-0.0276},{"p":3,"s":"LE","k":978,"v":-0.0261},{"p":3,"s":"LE","k":979,"v":-0.0245},{"p":3,"s":"LE","k":980,"v":-0.023},{"p":3,"s":"LE","k":981,"v":-0.0217},{"p":3,"s":"LE","k":982,"v":-0.0205},{"p":3,"s":"LE","k":983,"v":-0.0195},{"p":3,"s":"LE","k":984,"v":-0.0185},{"p":3,"s":"LE","k":985,"v":-0.0172},{"p":3,"s":"LE","k":986,"v":-0.0158},{"p":3,"s":"LE","k":987,"v":-0.0145},{"p":3,"s":"LE","k":987.9,"v":-0.0124},
{"p":3,"s":"IJ","k":879.2,"v":-0.0409},{"p":3,"s":"IJ","k":879.6,"v":-0.0322},{"p":3,"s":"IJ","k":880.6,"v":-0.0296},{"p":3,"s":"IJ","k":881.7,"v":-0.0277},{"p":3,"s":"IJ","k":882.8,"v":-0.0256},{"p":3,"s":"IJ","k":883.8,"v":-0.0243},{"p":3,"s":"IJ","k":884.9,"v":-0.023},{"p":3,"s":"IJ","k":886,"v":-0.0216},{"p":3,"s":"IJ","k":887,"v":-0.019},{"p":3,"s":"IJ","k":888.1,"v":-0.0172},{"p":3,"s":"IJ","k":889.2,"v":-0.0164},{"p":3,"s":"IJ","k":890.2,"v":-0.0156},{"p":3,"s":"IJ","k":891.3,"v":-0.0137},{"p":3,"s":"IJ","k":896,"v":-0.0172},{"p":3,"s":"IJ","k":897,"v":-0.0172},{"p":3,"s":"IJ","k":897.7,"v":-0.019},{"p":3,"s":"IJ","k":898.4,"v":-0.023},{"p":3,"s":"IJ","k":898.8,"v":-0.0303},{"p":3,"s":"IJ","k":899.9,"v":-0.0322},{"p":3,"s":"IJ","k":900.9,"v":-0.0335},{"p":3,"s":"IJ","k":902,"v":-0.034},{"p":3,"s":"IJ","k":903.1,"v":-0.0309},{"p":3,"s":"IJ","k":904.1,"v":-0.0314},{"p":3,"s":"IJ","k":905.2,"v":-0.0314},{"p":3,"s":"IJ","k":909.5,"v":-0.0322},{"p":3,"s":"IJ","k":910.6,"v":-0.0314},{"p":3,"s":"IJ","k":911.6,"v":-0.0296},{"p":3,"s":"IJ","k":912.7,"v":-0.0282},{"p":3,"s":"IJ","k":913.8,"v":-0.0274},{"p":3,"s":"IJ","k":914.8,"v":-0.0274},{"p":3,"s":"IJ","k":915.9,"v":-0.0277},{"p":3,"s":"IJ","k":917,"v":-0.0282},{"p":3,"s":"IJ","k":918,"v":-0.029},{"p":3,"s":"IJ","k":919.1,"v":-0.0296},{"p":3,"s":"IJ","k":920.2,"v":-0.0296},{"p":3,"s":"IJ","k":921.3,"v":-0.0303},{"p":3,"s":"IJ","k":922.3,"v":-0.0314},{"p":3,"s":"IJ","k":923.4,"v":-0.0322},{"p":3,"s":"IJ","k":924.5,"v":-0.0317},{"p":3,"s":"IJ","k":925.5,"v":-0.0314},{"p":3,"s":"IJ","k":926.6,"v":-0.0296},{"p":3,"s":"IJ","k":927.7,"v":-0.0277},{"p":3,"s":"IJ","k":928.8,"v":-0.0261},{"p":3,"s":"IJ","k":930,"v":-0.0258},{"p":3,"s":"IJ","k":931,"v":-0.0261},{"p":3,"s":"IJ","k":932,"v":-0.0264},{"p":3,"s":"IJ","k":933,"v":-0.0269},{"p":3,"s":"IJ","k":934,"v":-0.0285},{"p":3,"s":"IJ","k":934.7,"v":-0.0296},{"p":3,"s":"IJ","k":935.5,"v":-0.029},{"p":3,"s":"IJ","k":936.5,"v":-0.0282},{"p":3,"s":"IJ","k":937.4,"v":-0.03},{"p":3,"s":"IJ","k":938.2,"v":-0.0314},{"p":3,"s":"IJ","k":939,"v":-0.0322},{"p":3,"s":"IJ","k":940,"v":-0.033},{"p":3,"s":"IJ","k":941,"v":-0.0333},{"p":3,"s":"IJ","k":942,"v":-0.0337},{"p":3,"s":"IJ","k":943,"v":-0.0342},{"p":3,"s":"IJ","k":943.9,"v":-0.0348},{"p":3,"s":"IJ","k":944.6,"v":-0.0303},{"p":3,"s":"IJ","k":945.5,"v":-0.03},{"p":3,"s":"IJ","k":946.4,"v":-0.0296},{"p":3,"s":"IJ","k":947.5,"v":-0.0289},{"p":3,"s":"IJ","k":948.5,"v":-0.0282},{"p":3,"s":"IJ","k":949.5,"v":-0.028},{"p":3,"s":"IJ","k":950.6,"v":-0.0277},{"p":3,"s":"IJ","k":951.7,"v":-0.0273},{"p":3,"s":"IJ","k":952.8,"v":-0.0269},{"p":3,"s":"IJ","k":953.9,"v":-0.0269},{"p":3,"s":"IJ","k":954.9,"v":-0.0269},{"p":3,"s":"IJ","k":955.6,"v":-0.0256},{"p":3,"s":"IJ","k":956.3,"v":-0.0243},{"p":3,"s":"IJ","k":957.2,"v":-0.023},{"p":3,"s":"IJ","k":958.1,"v":-0.0216},{"p":3,"s":"IJ","k":959,"v":-0.0225},{"p":3,"s":"IJ","k":959.9,"v":-0.0235},{"p":3,"s":"IJ","k":961,"v":-0.0243},{"p":3,"s":"IJ","k":962,"v":-0.0251},{"p":3,"s":"IJ","k":963,"v":-0.0256},{"p":3,"s":"IJ","k":964.1,"v":-0.0261},{"p":3,"s":"IJ","k":965.1,"v":-0.0265},{"p":3,"s":"IJ","k":966.2,"v":-0.0269},{"p":3,"s":"IJ","k":967.3,"v":-0.0275},{"p":3,"s":"IJ","k":968.4,"v":-0.0282},{"p":3,"s":"IJ","k":969.4,"v":-0.0289},{"p":3,"s":"IJ","k":970.5,"v":-0.0296},{"p":3,"s":"IJ","k":971.5,"v":-0.0289},{"p":3,"s":"IJ","k":972.6,"v":-0.0282},{"p":3,"s":"IJ","k":973.7,"v":-0.0282},{"p":3,"s":"IJ","k":974.8,"v":-0.0282},{"p":3,"s":"IJ","k":975.8,"v":-0.0285},{"p":3,"s":"IJ","k":976.9,"v":-0.0288},{"p":3,"s":"IJ","k":978,"v":-0.0282},{"p":3,"s":"IJ","k":979,"v":-0.0277},{"p":3,"s":"IJ","k":980,"v":-0.0266},{"p":3,"s":"IJ","k":981.1,"v":-0.0256},{"p":3,"s":"IJ","k":982.2,"v":-0.0253},{"p":3,"s":"IJ","k":983.3,"v":-0.0251},{"p":3,"s":"IJ","k":984.3,"v":-0.0247},{"p":3,"s":"IJ","k":985.4,"v":-0.0243},{"p":3,"s":"IJ","k":986.3,"v":-0.023},{"p":3,"s":"IJ","k":987.2,"v":-0.0216},{"p":3,"s":"IJ","k":988,"v":-0.0235},{"p":3,"s":"IJ","k":988.9,"v":-0.0251},{"p":3,"s":"IJ","k":990,"v":-0.0251},{"p":3,"s":"IJ","k":991.1,"v":-0.0251},{"p":3,"s":"IJ","k":992,"v":-0.0247},{"p":3,"s":"IJ","k":992.8,"v":-0.0243},{"p":3,"s":"IJ","k":993.7,"v":-0.0223},{"p":3,"s":"IJ","k":994.6,"v":-0.0203},{"p":3,"s":"IJ","k":995.6,"v":-0.0192},{"p":3,"s":"IJ","k":996.7,"v":-0.0182},{"p":3,"s":"IJ","k":997.8,"v":-0.0173},{"p":3,"s":"IJ","k":998.9,"v":-0.0164},{"p":3,"s":"IJ","k":1000,"v":-0.015},{"p":3,"s":"IJ","k":1001,"v":-0.0137},{"p":3,"s":"IJ","k":1002,"v":-0.0124},{"p":3,"s":"IJ","k":1003.1,"v":-0.0111},{"p":3,"s":"IJ","k":1003.8,"v":-0.0101},{"p":3,"s":"IJ","k":1004.5,"v":-0.0092},{"p":3,"s":"IJ","k":1005.2,"v":-0.0082},{"p":3,"s":"IJ","k":1005.9,"v":-0.0075}
]},
"data":{"name":"d"},
"resolve":{"scale":{"color":"independent"}},
"vconcat":[
{"title":{"text":"Waterstandsverschil 1k(verfijnd grid vs normaal grid)","dx":9.5},
 "width":835,"height":376,
 "transform":[{"filter":"datum.p == 1"}],
 "layer":[
  {"mark":{"type":"line","strokeWidth":2},
   "encoding":{
    "x":{"field":"k","type":"quantitative","scale":{"domain":[840,1020],"nice":false,"zero":false},
      "axis":{"orient":"bottom","values":[840,844,848,852,856,860,864,868,872,876,880,884,888,892,896,900,904,908,912,916,920,924,928,932,936,940,944,948,952,956,960,964,968,972,976,980,984,988,992,996,1000,1004,1008,1012,1016,1020],"grid":true,"gridColor":"#ececec","gridWidth":1.5,"domain":false,"ticks":false,"labels":false,"title":null}},
    "y":{"field":"v","type":"quantitative","scale":{"domain":[-0.07,0.03],"nice":false,"zero":false},
      "axis":{"orient":"left","values":[-0.07,-0.068,-0.066,-0.064,-0.062,-0.06,-0.058,-0.056,-0.054,-0.052,-0.05,-0.048,-0.046,-0.044,-0.042,-0.04,-0.038,-0.036,-0.034,-0.032,-0.03,-0.028,-0.026,-0.024,-0.022,-0.02,-0.018,-0.016,-0.014,-0.012,-0.01,-0.008,-0.006,-0.004,-0.002,0,0.002,0.004,0.006,0.008,0.01,0.012,0.014,0.016,0.018,0.02,0.022,0.024,0.026,0.028,0.03],"grid":true,"gridColor":"#ececec","gridWidth":1.5,"domain":false,"ticks":false,"labels":false,"title":null}},
    "color":{"field":"s","type":"nominal","scale":{"domain":["RH","BR","WL","BO","PK","NR","LE","IJ"],"range":["#1B6A93","#ED7D31","#1D7430","#1A9FDB","#A02F9C","#56AC37","#0D3B54","#9C3D10"]},
      "legend":{"orient":"none","legendX":877.8,"legendY":96.5,"title":null,"symbolType":"M-1.95,0L1.95,0M-0.47,0A0.47,0.47,0,1,0,0.47,0A0.47,0.47,0,1,0,-0.47,0Z","symbolSize":289,"symbolStrokeWidth":2,"labelFontSize":13,"labelColor":"#595959","labelFont":"Lato","labelOffset":11,"rowPadding":10,"padding":0}}}},
  {"mark":{"type":"point","filled":true,"size":40,"opacity":1},
   "encoding":{
    "x":{"field":"k","type":"quantitative","scale":{"domain":[840,1020],"nice":false,"zero":false},
      "axis":{"orient":"bottom","values":[840,860,880,900,920,940,960,980,1000,1020],"labelExpr":"'' + datum.value","grid":true,"gridColor":"#d9d9d9","domain":true,"domainColor":"#bfbfbf","ticks":false,"labelPadding":11,"labelFlush":false,"labelOverlap":false,"offset":-263.2,"title":"Rivierkilometer","titleY":274,"titleBaseline":"middle"}},
    "y":{"field":"v","type":"quantitative","scale":{"domain":[-0.07,0.03],"nice":false,"zero":false},
      "axis":{"orient":"left","values":[-0.07,-0.06,-0.05,-0.04,-0.03,-0.02,-0.01,0,0.01,0.02,0.03],"labelExpr":"'' + datum.value","grid":true,"gridColor":"#d9d9d9","domain":false,"ticks":false,"labelPadding":12,"title":"waterstandsverschil [m]","titleX":-56,"titleY":188,"titleAngle":270,"titleBaseline":"middle","titleAlign":"center"}},
    "color":{"field":"s","type":"nominal","scale":{"domain":["RH","BR","WL","BO","PK","NR","LE","IJ"],"range":["#1B6A93","#ED7D31","#1D7430","#1A9FDB","#A02F9C","#56AC37","#0D3B54","#9C3D10"]}}}}
 ],
 "resolve":{"axis":{"x":"independent","y":"independent"}}
},
{"title":{"text":"Waterstandsverschil 4k (verfijnd grid vs normaal grid)","dx":10.5},
 "width":835,"height":375,
 "transform":[{"filter":"datum.p == 2"}],
 "layer":[
  {"mark":{"type":"line","strokeWidth":2},
   "encoding":{
    "x":{"field":"k","type":"quantitative","scale":{"domain":[840,1020],"nice":false,"zero":false},
      "axis":{"orient":"bottom","values":[840,844,848,852,856,860,864,868,872,876,880,884,888,892,896,900,904,908,912,916,920,924,928,932,936,940,944,948,952,956,960,964,968,972,976,980,984,988,992,996,1000,1004,1008,1012,1016,1020],"grid":true,"gridColor":"#ececec","gridWidth":1.5,"domain":false,"ticks":false,"labels":false,"title":null}},
    "y":{"field":"v","type":"quantitative","scale":{"domain":[-0.14,0.02],"nice":false,"zero":false},
      "axis":{"orient":"left","values":[-0.14,-0.136,-0.132,-0.128,-0.124,-0.12,-0.116,-0.112,-0.108,-0.104,-0.1,-0.096,-0.092,-0.088,-0.084,-0.08,-0.076,-0.072,-0.068,-0.064,-0.06,-0.056,-0.052,-0.048,-0.044,-0.04,-0.036,-0.032,-0.028,-0.024,-0.02,-0.016,-0.012,-0.008,-0.004,0,0.004,0.008,0.012,0.016,0.02],"grid":true,"gridColor":"#ececec","gridWidth":1.5,"domain":false,"ticks":false,"labels":false,"title":null}},
    "color":{"field":"s","type":"nominal","scale":{"domain":["RH","BR","WL","BO","PK","NR","LE","IJ"],"range":["#1B6A93","#ED7D31","#1D7430","#1A9FDB","#A02F9C","#56AC37","#0D3B54","#9C3D10"]},
      "legend":{"orient":"none","legendX":877.8,"legendY":96.5,"title":null,"symbolType":"M-1.95,0L1.95,0M-0.47,0A0.47,0.47,0,1,0,0.47,0A0.47,0.47,0,1,0,-0.47,0Z","symbolSize":289,"symbolStrokeWidth":2,"labelFontSize":13,"labelColor":"#595959","labelFont":"Lato","labelOffset":11,"rowPadding":10,"padding":0}}}},
  {"mark":{"type":"point","filled":true,"size":40,"opacity":1},
   "encoding":{
    "x":{"field":"k","type":"quantitative","scale":{"domain":[840,1020],"nice":false,"zero":false},
      "axis":{"orient":"bottom","values":[840,860,880,900,920,940,960,980,1000,1020],"labelExpr":"'' + datum.value","grid":true,"gridColor":"#d9d9d9","domain":true,"domainColor":"#bfbfbf","ticks":false,"labelPadding":11,"labelFlush":false,"labelOverlap":false,"offset":-328.1,"title":"Rivierkilometer","titleY":340.4,"titleBaseline":"middle"}},
    "y":{"field":"v","type":"quantitative","scale":{"domain":[-0.14,0.02],"nice":false,"zero":false},
      "axis":{"orient":"left","values":[-0.14,-0.12,-0.1,-0.08,-0.06,-0.04,-0.02,0,0.02],"labelExpr":"'' + datum.value","grid":true,"gridColor":"#d9d9d9","domain":false,"ticks":false,"labelPadding":12,"title":"waterstandsverschil [m]","titleX":-56,"titleY":187.5,"titleAngle":270,"titleBaseline":"middle","titleAlign":"center"}},
    "color":{"field":"s","type":"nominal","scale":{"domain":["RH","BR","WL","BO","PK","NR","LE","IJ"],"range":["#1B6A93","#ED7D31","#1D7430","#1A9FDB","#A02F9C","#56AC37","#0D3B54","#9C3D10"]}}}}
 ],
 "resolve":{"axis":{"x":"independent","y":"independent"}}
},
{"title":{"text":"Waterstandsverschil 16 k(verfijnd grid vs normaal grid)","dx":8.5},
 "width":843,"height":379,
 "transform":[{"filter":"datum.p == 3"}],
 "layer":[
  {"mark":{"type":"line","strokeWidth":2},
   "encoding":{
    "x":{"field":"k","type":"quantitative","scale":{"domain":[840,1020],"nice":false,"zero":false},
      "axis":{"orient":"bottom","values":[840,844,848,852,856,860,864,868,872,876,880,884,888,892,896,900,904,908,912,916,920,924,928,932,936,940,944,948,952,956,960,964,968,972,976,980,984,988,992,996,1000,1004,1008,1012,1016,1020],"grid":true,"gridColor":"#ececec","gridWidth":1.5,"domain":false,"ticks":false,"labels":false,"title":null}},
    "y":{"field":"v","type":"quantitative","scale":{"domain":[-0.25,0.05],"nice":false,"zero":false},
      "axis":{"orient":"left","values":[-0.25,-0.24,-0.23,-0.22,-0.21,-0.2,-0.19,-0.18,-0.17,-0.16,-0.15,-0.14,-0.13,-0.12,-0.11,-0.1,-0.09,-0.08,-0.07,-0.06,-0.05,-0.04,-0.03,-0.02,-0.01,0,0.01,0.02,0.03,0.04,0.05],"grid":true,"gridColor":"#ececec","gridWidth":1.5,"domain":false,"ticks":false,"labels":false,"title":null}},
    "color":{"field":"s","type":"nominal","scale":{"domain":["RH","BR","WL","BO","PK","NR","LE","IJ"],"range":["#1B6A93","#ED7D31","#1D7430","#1A9FDB","#A02F9C","#56AC37","#0D3B54","#9C3D10"]},
      "legend":{"orient":"none","legendX":886.2,"legendY":97,"title":null,"symbolType":"M-1.95,0L1.95,0M-0.47,0A0.47,0.47,0,1,0,0.47,0A0.47,0.47,0,1,0,-0.47,0Z","symbolSize":289,"symbolStrokeWidth":2,"labelFontSize":13,"labelColor":"#595959","labelFont":"Lato","labelOffset":11,"rowPadding":10.4,"padding":0}}}},
  {"mark":{"type":"point","filled":true,"size":40,"opacity":1},
   "encoding":{
    "x":{"field":"k","type":"quantitative","scale":{"domain":[840,1020],"nice":false,"zero":false},
      "axis":{"orient":"bottom","values":[840,860,880,900,920,940,960,980,1000,1020],"labelExpr":"'' + datum.value","grid":true,"gridColor":"#d9d9d9","domain":true,"domainColor":"#bfbfbf","ticks":false,"labelPadding":12,"labelFlush":false,"labelOverlap":false,"offset":-315.8,"title":"Rivierkilometer","titleY":328,"titleBaseline":"middle"}},
    "y":{"field":"v","type":"quantitative","scale":{"domain":[-0.25,0.05],"nice":false,"zero":false},
      "axis":{"orient":"left","values":[-0.25,-0.2,-0.15,-0.1,-0.05,0,0.05],"labelExpr":"'' + datum.value","grid":true,"gridColor":"#d9d9d9","domain":false,"ticks":false,"labelPadding":12,"title":"waterstandsverschil [m]","titleX":-58,"titleY":189.5,"titleAngle":270,"titleBaseline":"middle","titleAlign":"center"}},
    "color":{"field":"s","type":"nominal","scale":{"domain":["RH","BR","WL","BO","PK","NR","LE","IJ"],"range":["#1B6A93","#ED7D31","#1D7430","#1A9FDB","#A02F9C","#56AC37","#0D3B54","#9C3D10"]}}}}
 ],
 "resolve":{"axis":{"x":"independent","y":"independent"}}
}
]
}
